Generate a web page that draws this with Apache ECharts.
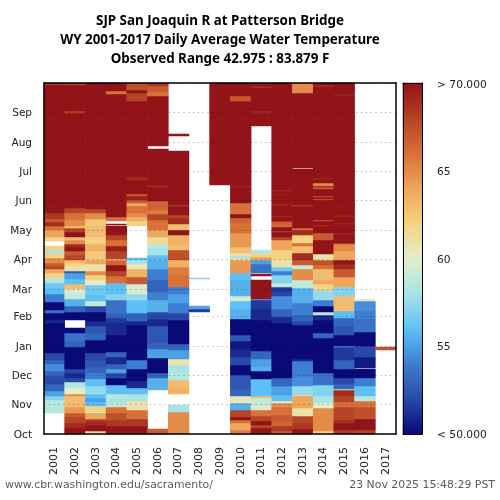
<!DOCTYPE html>
<html><head><meta charset="utf-8">
<style>html,body{margin:0;padding:0;background:#fff}#c{width:500px;height:500px}</style>
<script src="https://cdn.jsdelivr.net/npm/echarts@6/dist/echarts.min.js"></script>
</head><body><div id="c"></div>
<script>
// each year: runs of [end day of water year counted from Oct 1, deg F]; null = no data
const wy2001=[[22,null],[35,58.5],[40,57],[45,55],[52,53],[60,52],[66,53],[73,54.5],[77,53],[84,52],[115,49],[119,51],[126,49],[129,53.5],[137,49],[146,54],[152,56],[157,56.5],[162,58.5],[167,62],[172,64],[175,68],[178,67],[183,65],[188,62],[191,58],[195,62],[201,null],[205,62],[212,64],[216,66],[220,69],[224,67],[230,68.5],[363,71],[365,68.5]];
const wy2002=[[6,70],[11,69],[18,68],[22,67],[28,64.5],[40,63],[42,65],[48,60],[54,58.5],[58,52],[63,51],[68,52],[77,49.5],[90,49],[97,53],[105,53.5],[110,50],[119,null],[127,49.5],[133,53],[140,55.5],[146,59],[151,59.5],[156,63],[161,56],[167,55],[170,52.5],[175,61],[178,62],[181,63],[186,68],[190,67],[194,70],[198,69],[202,65],[205,63],[210,70],[214,68],[216,63],[223,65],[230,66],[235,68],[334,71],[336,68],[363,71],[365,68]];
const wy2003=[[3,62],[9,70],[13,69],[16,68],[22,64],[23,null],[29,62],[33,56],[37,55],[42,56],[50,57.5],[57,56],[63,54],[70,53],[77,52.5],[84,52],[92,50],[98,49.5],[105,53],[112,52.5],[118,51],[127,49.5],[133,52],[138,59],[145,56],[155,56.5],[160,60],[165,62],[170,65],[177,61],[181,64],[190,62.5],[198,63.5],[205,62],[216,63],[224,62.5],[230,65],[234,68],[352,71],[353,70],[365,71]];
const wy2004=[[8,70.5],[15,68.5],[22,67.5],[28,66],[32,59],[37,58],[42,58.5],[51,56],[58,50],[63,52],[68,55],[73,53],[80,51],[85,53],[103,49.5],[115,51],[121,51.5],[126,53],[139,53.5],[146,57],[157,56],[164,66],[169,68],[176,70],[181,66.5],[182,62],[190,68],[195,69.5],[202,66],[207,68],[216,70],[217,null],[218,70],[222,null],[226,66],[354,71],[357,66],[365,71]];
const wy2005=[[8,70.5],[16,68.5],[25,66],[34,61],[42,58],[48,56],[55,51],[68,49.5],[77,54],[113,49.5],[118,51],[126,53],[139,56],[146,57.5],[156,59.5],[163,67],[172,63.5],[177,60.5],[181,58],[183,56],[216,null],[221,62],[226,63.5],[230,65],[237,66],[240,64],[243,67],[247,69.5],[250,67],[264,71],[267,69],[346,71],[355,68],[358,70],[365,67.5]];
const wy2006=[[5,67],[46,null],[58,55.5],[63,53],[79,50],[88,55],[95,53],[112,52.5],[120,51],[127,52],[139,55.5],[148,54],[160,53],[172,54],[181,55.5],[186,56],[193,58],[198,58.5],[205,61.5],[212,64],[223,66],[229,68],[233,65.5],[242,66.5],[257,71],[259,69],[296,71],[299,null],[351,71],[356,66],[362,67],[365,68.5]];
const wy2007=[[23,65],[30,58],[42,null],[49,63.5],[56,63],[63,58.5],[72,58],[78,61],[87,55],[94,53],[119,49.5],[126,52],[136,54],[146,55],[153,54],[165,66],[174,65.5],[181,63.5],[191,67.5],[197,63],[207,63.5],[212,70],[218,63],[225,69],[228,68],[237,71],[238,68],[294,71],[310,null],[312,71],[365,null]];
const wy2008=[[127,null],[130,51.5],[133,55],[161,null],[162,57],[365,null]];
const wy2009=[[259,null],[365,71]];
const wy2010=[[4,65.5],[11,64],[15,66],[18,70],[25,68],[32,55.5],[39,60.5],[47,53],[61,52.5],[72,49.5],[80,52],[88,51],[97,50.5],[103,52.5],[120,49.5],[130,55.5],[138,56],[143,59.5],[160,55.5],[167,56],[181,64.5],[183,61],[185,58],[188,61],[194,63],[200,64.5],[209,64.5],[219,66],[225,66.5],[229,70],[240,66],[257,71],[258,69],[346,71],[351,67],[358,71],[359,70],[365,71]];
const wy2011=[[6,70],[9,68],[14,70],[19,68],[25,66],[30,59.5],[37,59],[40,63],[57,56],[65,50],[70,55.5],[78,55],[86,53],[119,49.5],[130,51],[139,51.5],[140,55],[160,71],[164,null],[166,70.5],[167,null],[177,53.5],[181,55],[184,64],[187,62],[191,58.5],[320,null],[334,71],[336,69],[360,71],[362,69],[365,71]];
const wy2012=[[3,67],[8,68.5],[13,66.5],[20,67],[28,66],[32,65],[34,60],[41,56],[50,55],[58,53],[63,50],[115,49],[122,51],[130,53],[143,54.5],[148,52],[153,51.5],[157,59],[165,57],[170,54],[174,56.5],[181,61],[191,62],[202,64],[205,68],[210,71],[211,68],[215,71],[220,66.5],[222,68],[226,71],[227,69],[238,71],[239,69],[249,71],[250,69.5],[253,71],[254,69],[365,71]];
const wy2013=[[5,70],[11,68.5],[19,68],[27,61],[39,64],[41,62],[50,57.5],[59,54.5],[76,54],[78,51],[113,49],[118,52],[124,53],[136,54],[152,55.5],[160,59],[172,65],[176,59],[181,67],[188,69],[195,63],[199,66],[207,62],[212,69],[214,66],[237,71],[238,68],[276,71],[277,null],[355,71],[365,65]];
const wy2014=[[3,62],[27,65],[32,60],[39,58],[51,57],[63,53.5],[100,49.5],[105,53],[119,49.5],[124,51],[127,59],[133,50],[139,54],[150,57.5],[156,62],[160,64],[172,63],[176,66],[181,67.5],[187,61],[202,71],[209,67],[216,71],[217,69],[222,71],[223,67],[243,71],[244,67],[246,71],[247,67],[255,71],[257,67],[258,71],[261,65],[265,71],[266,69],[361,71],[363,69],[365,71]];
const wy2015=[[4,68.5],[11,70.5],[15,69],[28,68],[33,66],[39,68],[46,69],[47,61],[52,53],[58,52],[68,50],[77,53],[90,51.5],[91,55],[103,49.5],[112,52.5],[121,53],[128,56],[144,63],[153,57],[163,64],[172,67],[177,69],[181,71],[190,64],[198,65],[199,68],[208,71],[209,69],[218,71],[219,69],[226,71],[228,69.5],[352,71],[354,69.5],[365,71]];
const wy2016=[[4,68],[16,70.5],[28,67.5],[34,66],[39,58.5],[50,56],[58,54],[68,49.5],[69,null],[80,50.5],[91,52],[106,49.5],[120,53.5],[128,54],[138,54.5],[140,60],[365,null]];
const wy2017=[[87,null],[90,67.5],[365,null]];

const years=['2001','2002','2003','2004','2005','2006','2007','2008','2009','2010','2011','2012','2013','2014','2015','2016','2017'];
const yearRuns=[wy2001,wy2002,wy2003,wy2004,wy2005,wy2006,wy2007,wy2008,wy2009,wy2010,wy2011,wy2012,wy2013,wy2014,wy2015,wy2016,wy2017];
const monthNames=['Oct','Nov','Dec','Jan','Feb','Mar','Apr','May','Jun','Jul','Aug','Sep'];
const monthStart=[0,31,61,92,123,151,182,212,243,273,304,335];
const palette=['#0a0a78','#2a4aa8','#3f7fd2','#5fc0f5','#a8e4e6','#e2eecb','#f5d384','#eea75c','#d8703a','#b54526','#921418'];

// one category row per plot pixel row, so the cells stay crisp
const ROWS=351, DAYS=365;
const toRow=d=>Math.round(d*ROWS/DAYS);
const monthRows=monthStart.map(toRow);
const rows=Array.from({length:ROWS},(_,i)=>{const m=monthRows.indexOf(i);return m>=0?monthNames[m]:'r'+i;});
const cells=[];
yearRuns.forEach((runs,x)=>{let s=0;runs.forEach(([e,v])=>{
  const r0=toRow(s), r1=Math.max(toRow(e),r0+1);
  for(let r=r0;r<r1&&r<ROWS;r++){if(v!==null)cells.push([x,r,v]);}
  s=e;});});
const barRows=Array.from({length:ROWS},(_,i)=>String(i));
const barCells=barRows.map((v,i)=>[0,i,50+20*i/(ROWS-1)]);
const barTicks={0:'< 50.000',88:'55',175:'60',263:'65',350:'> 70.000'};
const isMonth=i=>monthRows.indexOf(i)>=0;
const font='DejaVu Sans';
const black='#000';
const chart=echarts.init(document.getElementById('c'),null,{renderer:'canvas'});
chart.setOption({
 animation:false,backgroundColor:'#fff',
 title:[
  {text:'SJP San Joaquin R at Patterson Bridge\nWY 2001-2017 Daily Average Water Temperature\nObserved Range 42.975 : 83.879 F',left:220,top:12,padding:0,textAlign:'center',
   textStyle:{fontFamily:'Noto Sans',fontWeight:'bold',fontSize:13.4,lineHeight:19,color:'#000'}},
  {text:'www.cbr.washington.edu/sacramento/',left:5,top:480,padding:0,textStyle:{fontFamily:font,fontWeight:'normal',fontSize:10.9,color:'#555c60'}},
  {text:'23 Nov 2025 15:48:29 PST',right:5,top:480,padding:0,textStyle:{fontFamily:font,fontWeight:'normal',fontSize:10.9,color:'#555c60'}}
 ],
 grid:[{left:44,top:83,width:352,height:351},{left:403,top:83,width:19,height:351}],
 xAxis:[
  {type:'category',gridIndex:0,data:years,position:'bottom',z:3,axisLine:{onZero:false,lineStyle:{color:black,width:1.5}},axisTick:{alignWithLabel:true,length:5,lineStyle:{color:black}},axisLabel:{rotate:90,interval:0,fontFamily:font,fontSize:11,color:'#222',margin:13},splitLine:{show:false}},
  {type:'category',gridIndex:0,data:years,position:'top',z:3,axisLine:{onZero:false,lineStyle:{color:black,width:1.5}},axisTick:{show:false},axisLabel:{show:false},splitLine:{show:false}},
  {type:'category',gridIndex:1,data:[''],position:'bottom',z:3,axisLine:{onZero:false,lineStyle:{color:black,width:1}},axisTick:{show:false},axisLabel:{show:false}},
  {type:'category',gridIndex:1,data:[''],position:'top',z:3,axisLine:{onZero:false,lineStyle:{color:black,width:1}},axisTick:{show:false},axisLabel:{show:false}}
 ],
 yAxis:[
  {type:'category',gridIndex:0,data:rows,position:'left',z:3,axisLine:{onZero:false,lineStyle:{color:black,width:1.5}},
   axisTick:{alignWithLabel:true,interval:i=>isMonth(i),length:5,lineStyle:{color:black}},
   axisLabel:{interval:i=>isMonth(i),fontFamily:font,fontSize:10.5,color:'#222',margin:12,verticalAlign:'top',padding:[-4,0,0,0]},
   splitLine:{show:true,interval:i=>isMonth(i)&&i>0,lineStyle:{color:'rgba(0,0,0,0.25)',type:[1.5,3.3],width:1}}},
  {type:'category',gridIndex:0,data:rows,position:'right',z:3,axisLine:{onZero:false,lineStyle:{color:black,width:1.5}},axisTick:{show:false},axisLabel:{show:false},splitLine:{show:false}},
  {type:'category',gridIndex:1,data:barRows,position:'right',z:3,axisLine:{onZero:false,lineStyle:{color:black,width:1}},
   axisTick:{alignWithLabel:true,interval:i=>barTicks[i]!==undefined,length:5,lineStyle:{color:black}},
   axisLabel:{interval:i=>barTicks[i]!==undefined,formatter:(v)=>barTicks[v],fontFamily:font,fontSize:10.7,color:'#222',margin:15,verticalAlign:'top',padding:[-4,0,0,0]},splitLine:{show:false}},
  {type:'category',gridIndex:1,data:barRows,position:'left',z:3,axisLine:{onZero:false,lineStyle:{color:black,width:1}},axisTick:{show:false},axisLabel:{show:false},splitLine:{show:false}}
 ],
 visualMap:{show:false,type:'continuous',min:50,max:70,dimension:2,seriesIndex:[0,1],inRange:{color:palette}},
 series:[
  {type:'heatmap',xAxisIndex:0,yAxisIndex:0,data:cells,z:1,progressive:0,emphasis:{disabled:true}},
  {type:'heatmap',xAxisIndex:2,yAxisIndex:2,data:barCells,z:1,progressive:0,emphasis:{disabled:true}}
 ]
});
</script></body></html>
